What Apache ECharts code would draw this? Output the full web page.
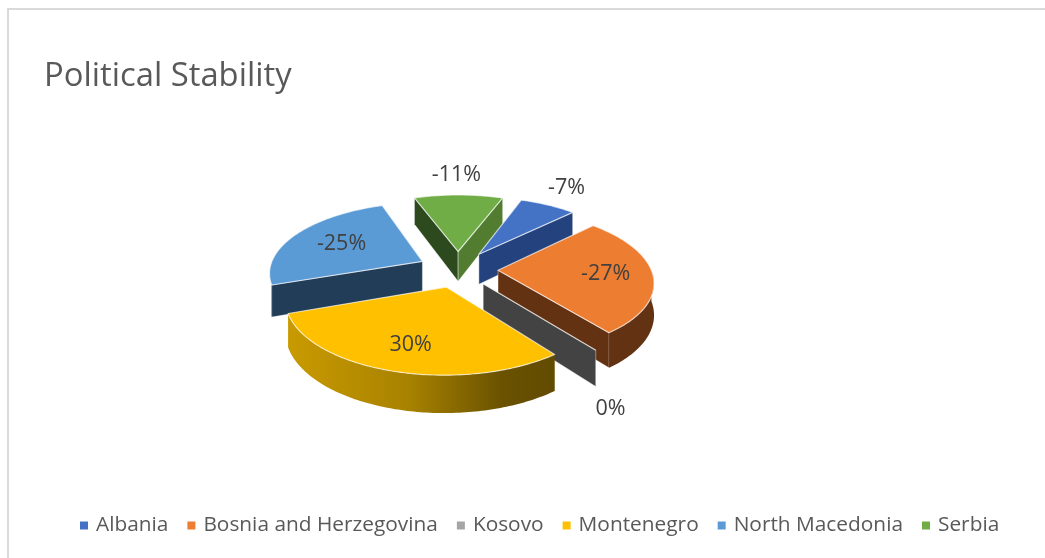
<!DOCTYPE html>
<html>
<head>
<meta charset="utf-8">
<script src="https://cdn.jsdelivr.net/npm/echarts@6/dist/echarts.min.js"></script>
<style>html,body{margin:0;padding:0;background:#fff}#c{width:1045px;height:558px}</style>
</head>
<body>
<div id="c"></div>
<script>
const titleText = 'Political Stability';
const categories = ['Albania', 'Bosnia and Herzegovina', 'Kosovo', 'Montenegro', 'North Macedonia', 'Serbia'];
const values = [-7, -27, 0, 30, -25, -11];
const topColors = ['#4472c4', '#ed7d31', '#a5a5a5', '#ffc000', '#5b9bd5', '#70ad47'];
const startWallColors = ['#24427e', '#633212', '#434343', '#8a6a00', '#223d57', '#2d4a1e'];
const endWallColors = ['#24427e', '#633212', '#434343', '#8a6a00', '#223d57', '#527c30'];
const drawOrder = [2, 4, 5, 6, 3, 1]; // z rank per category
const labelOffsets = [[43, -35], [12, 1], [61, 86], [-4, 9], [-1, 0], [-2, -40]];

const view = {cx: 458, cy: 269, r: 153, explode: 40, tilt: 0.454, persp: 0.00095, height: 31, rotation: 20, labelFrac: 0.62, frontFrom: 90, frontTo: 251};
const total = values.reduce((a, v) => a + Math.abs(v), 0);
const rad = d => d * Math.PI / 180;

function project(X, Y, Z) {
  const s = 1 / (1 - view.persp * Y);
  return [view.cx + X * s, view.cy + (Y * view.tilt + Z) * s];
}
function sliceAngles(i) {
  let before = 0;
  for (let j = 0; j < i; j++) before += Math.abs(values[j]);
  const a = view.rotation + before / total * 360;
  return [a, a + Math.abs(values[i]) / total * 360];
}
function groundPoint(i, theta, radius) {
  const [a, b] = sliceAngles(i);
  const m = rad((a + b) / 2), t = rad(theta);
  return [view.explode * Math.sin(m) + radius * Math.sin(t), -view.explode * Math.cos(m) - radius * Math.cos(t)];
}
const wallFill = i => i === 3 ? {
  type: 'linear', x: 0, y: 0, x2: 1, y2: 0,
  colorStops: [{offset: 0, color: '#c99a00'}, {offset: 0.45, color: '#a88200'}, {offset: 0.8, color: '#6a5200'}, {offset: 1, color: '#624b00'}]
} : endWallColors[i];

function renderSlice(params, api) {
  const i = params.seriesIndex;
  const v = api.value(0);
  const [a, b] = sliceAngles(i);
  const edge = 'rgba(255,255,255,0.65)';
  const children = [];
  const pt = (theta, radius, z) => { const g = groundPoint(i, theta, radius); return project(g[0], g[1], z); };
  const arc = (from, to, z) => {
    const out = [];
    const n = Math.max(1, Math.ceil(Math.abs(to - from)));
    for (let k = 0; k <= n; k++) out.push(pt(from + (to - from) * k / n, view.r, z));
    return out;
  };
  const cutWall = (theta, fill) => ({
    type: 'polygon',
    shape: {points: [pt(theta, 0, 0), pt(theta, view.r, 0), pt(theta, view.r, view.height), pt(theta, 0, view.height)]},
    style: {fill: fill, stroke: 'rgba(255,255,255,0.4)', lineWidth: 1}
  });
  // only faces turned towards the viewer
  if (Math.sin(rad(a)) < 0 && b > a) children.push(cutWall(a, startWallColors[i]));
  if (Math.sin(rad(b)) > 0) children.push(cutWall(b, endWallColors[i]));
  const fa = Math.max(a, view.frontFrom), fb = Math.min(b, view.frontTo);
  if (fb > fa) {
    const upper = arc(fa, fb, 0), lower = arc(fa, fb, view.height).reverse();
    children.push({type: 'polygon', shape: {points: upper.concat(lower)}, style: {fill: wallFill(i)}});
  }
  if (b > a) {
    children.push({type: 'polygon', shape: {points: [pt(a, 0, 0)].concat(arc(a, b, 0))},
      style: {fill: topColors[i], stroke: edge, lineWidth: 1.2, lineJoin: 'round'}});
  } else {
    children.push({type: 'line', shape: {x1: pt(a, 0, 0)[0], y1: pt(a, 0, 0)[1], x2: pt(a, view.r, 0)[0], y2: pt(a, view.r, 0)[1]},
      style: {stroke: edge, lineWidth: 1.2}});
  }
  const lp = pt((a + b) / 2, view.r * view.labelFrac, 0);
  children.push({type: 'text', z2: 100, style: {
    x: lp[0] + labelOffsets[i][0], y: lp[1] + labelOffsets[i][1], text: v + '%',
    fill: '#404040', font: '21.5px "Open Sans"', align: 'center', verticalAlign: 'middle'}});
  return {type: 'group', children};
}

const chart = echarts.init(document.getElementById('c'), null, {renderer: 'canvas'});
chart.setOption({
  animation: false,
  backgroundColor: '#ffffff',
  title: {text: titleText, left: 44, top: 60, padding: 0,
    textStyle: {fontFamily: '"Open Sans"', fontSize: 32.8, fontWeight: 'normal', color: '#595959'}},
  legend: {
    data: categories, bottom: 22, left: 80, padding: 0,
    icon: 'rect', itemWidth: 8, itemHeight: 8, itemGap: 19,
    textStyle: {fontFamily: '"Open Sans"', fontSize: 20.85, color: '#595959', padding: [0, 0, 0, 3]}
  },
  graphic: [
    {type: 'line', silent: true, z: -1, shape: {x1: 8, y1: 9, x2: 1045, y2: 9}, style: {stroke: '#d9d9d9', lineWidth: 2}},
    {type: 'line', silent: true, z: -1, shape: {x1: 8, y1: 8, x2: 8, y2: 558}, style: {stroke: '#d9d9d9', lineWidth: 2}}
  ],
  series: categories.map((name, i) => ({
    type: 'custom', name, coordinateSystem: 'none', z: drawOrder[i],
    itemStyle: {color: topColors[i]}, data: [values[i]], renderItem: renderSlice
  }))
});
</script>
</body>
</html>
